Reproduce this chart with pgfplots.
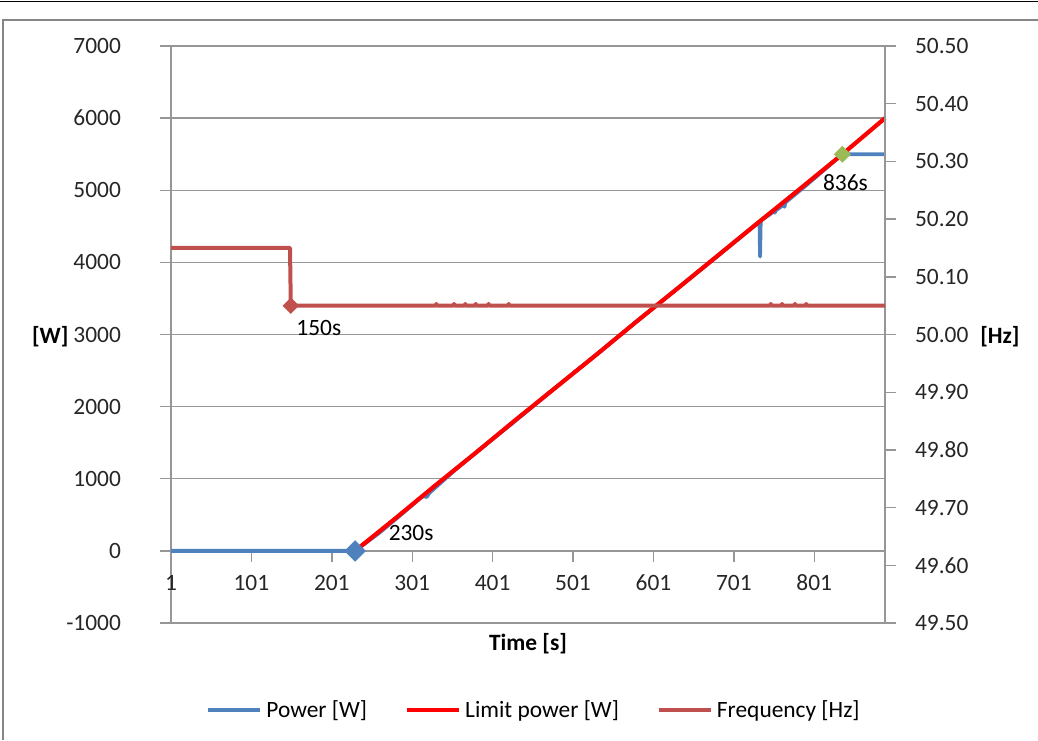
\documentclass[border=0pt]{standalone}
\usepackage{pgfplots}
\pgfplotsset{compat=1.18}
\usepackage{fontspec}
\setmainfont{Carlito}

\definecolor{powblue}{RGB}{79,129,189}
\definecolor{limred}{RGB}{255,0,0}
\definecolor{freqred}{RGB}{192,80,77}
\definecolor{markgreen}{RGB}{155,187,89}
\definecolor{gridgray}{RGB}{150,150,150}
\definecolor{framegray}{RGB}{134,134,134}

\newcommand{\chartfont}{\fontsize{11.7}{14}\selectfont}

\pgfplotsset{
  twinbase/.style={
    at={(85.5pt,58.5pt)}, anchor=south west,
    scale only axis, width=357pt, height=288.5pt,
    xmin=1, xmax=889,
    clip=false,
    axis line style={gridgray, line width=0.7pt},
    tick style={gridgray, line width=0.7pt},
    major tick length=5.5pt,
    tick align=outside,
    ticklabel style={font=\chartfont, text=black!85},
  }
}

\begin{document}
\begin{tikzpicture}
\useasboundingbox (0,0) rectangle (519pt,370pt);

% primary axis: power in watts
\begin{axis}[twinbase,
  ymin=-1000, ymax=7000,
  axis y line*=left, axis x line*=middle,
  hide obscured x ticks=false, hide obscured y ticks=false,
  xtick={1,101,201,301,401,501,601,701,801},
  xticklabels={1,101,201,301,401,501,601,701,801},
  ytick={-1000,0,1000,2000,3000,4000,5000,6000,7000},
  yticklabels={-1000,0,1000,2000,3000,4000,5000,6000,7000},
  ymajorgrids, grid style={gridgray, line width=0.7pt},
  x tick label style={yshift=-3pt},
  y tick label style={xshift=-16pt},
]
% power
\addplot[powblue, line width=1.9pt, line join=round] coordinates {
  (1,0) (230,0) (260,250) (290,530) (312,740) (316,760) (319,745) (322,800)
  (340,980) (354,1120) (380,1360) (430,1810) (480,2270) (530,2720)
  (580,3180) (630,3630) (680,4080) (730,4540) (733,4560) (733.6,4080)
  (734.4,4580) (745,4660) (751,4710) (752,4690) (753,4720) (763,4800)
  (764,4770) (765,4830) (790,5060) (836,5500) (889,5500)
};
% limit power
\addplot[limred, line width=2.1pt, line join=round] coordinates {
  (230,0) (280,450) (330,910) (380,1360) (430,1820) (480,2270)
  (530,2720) (580,3180) (630,3630) (680,4085) (730,4540) (780,4990)
  (836,5500) (889,6000)
};
% start and end markers
\addplot[only marks, mark=square*, mark size=3.6pt, mark options={rotate=45, fill=powblue, draw=powblue}]
  coordinates {(230,0)};
\addplot[only marks, mark=square*, mark size=2.8pt, mark options={rotate=45, fill=markgreen, draw=markgreen}]
  coordinates {(836,5500)};
\node[font=\chartfont, xshift=28pt, yshift=9pt] at (axis cs:230,0) {230s};
\node[font=\chartfont, xshift=1.5pt, yshift=-14pt] at (axis cs:836,5500) {836s};
\node[font=\bfseries\chartfont] at (axis description cs:0.5,-0.035) {Time [s]};
\node[font=\bfseries\chartfont] at (axis description cs:-0.169,0.497) {[W]};
\end{axis}

% secondary axis: grid frequency
\begin{axis}[twinbase,
  ymin=49.5, ymax=50.5,
  axis y line*=right, axis x line=none,
  ytick={49.5,49.6,49.7,49.8,49.9,50.0,50.1,50.2,50.3,50.4,50.5},
  yticklabels={49.50,49.60,49.70,49.80,49.90,50.00,50.10,50.20,50.30,50.40,50.50},
  y tick label style={xshift=6pt},
  legend style={draw=none, at={(axis description cs:0.51,-0.151)}, anchor=center,
    font=\chartfont, legend columns=-1,
    /tikz/every even column/.append style={column sep=17pt}},
  legend image code/.code={\draw[#1] (0pt,0pt) -- (26pt,0pt);},
]
\addlegendimage{powblue, line width=1.9pt}
\addlegendentry{Power [W]}
\addlegendimage{limred, line width=2.1pt}
\addlegendentry{Limit power [W]}
\addplot[freqred, line width=2pt, line join=round] coordinates {
  (1,50.15) (149,50.15) (150,50.05) (330,50.05) (331,50.053) (332,50.05)
  (352,50.05) (353,50.053) (354,50.05) (366,50.05) (367,50.053) (368,50.05)
  (379,50.05) (380,50.053) (381,50.05) (395,50.05) (396,50.053) (397,50.05)
  (420,50.05) (421,50.053) (422,50.05) (746,50.05) (747,50.053) (748,50.05)
  (760,50.05) (761,50.053) (762,50.05) (776,50.05) (777,50.053) (778,50.05)
  (790,50.05) (791,50.053) (792,50.05) (889,50.05)
};
\addlegendentry{Frequency [Hz]}
\addplot[only marks, mark=square*, mark size=2.7pt, mark options={rotate=45, fill=freqred, draw=freqred}, forget plot]
  coordinates {(150,50.05)};
\node[font=\chartfont, xshift=14pt, yshift=-11pt] at (axis cs:150,50.05) {150s};
\node[font=\bfseries\chartfont] at (axis description cs:1.161,0.497) {[Hz]};
\end{axis}

% surrounding frame
\draw[black, line width=0.8pt] (0,369.3pt) -- (519pt,369.3pt);
\draw[framegray, line width=1pt] (1.5pt,0) -- (1.5pt,360pt) -- (519pt,360pt);
\end{tikzpicture}
\end{document}
